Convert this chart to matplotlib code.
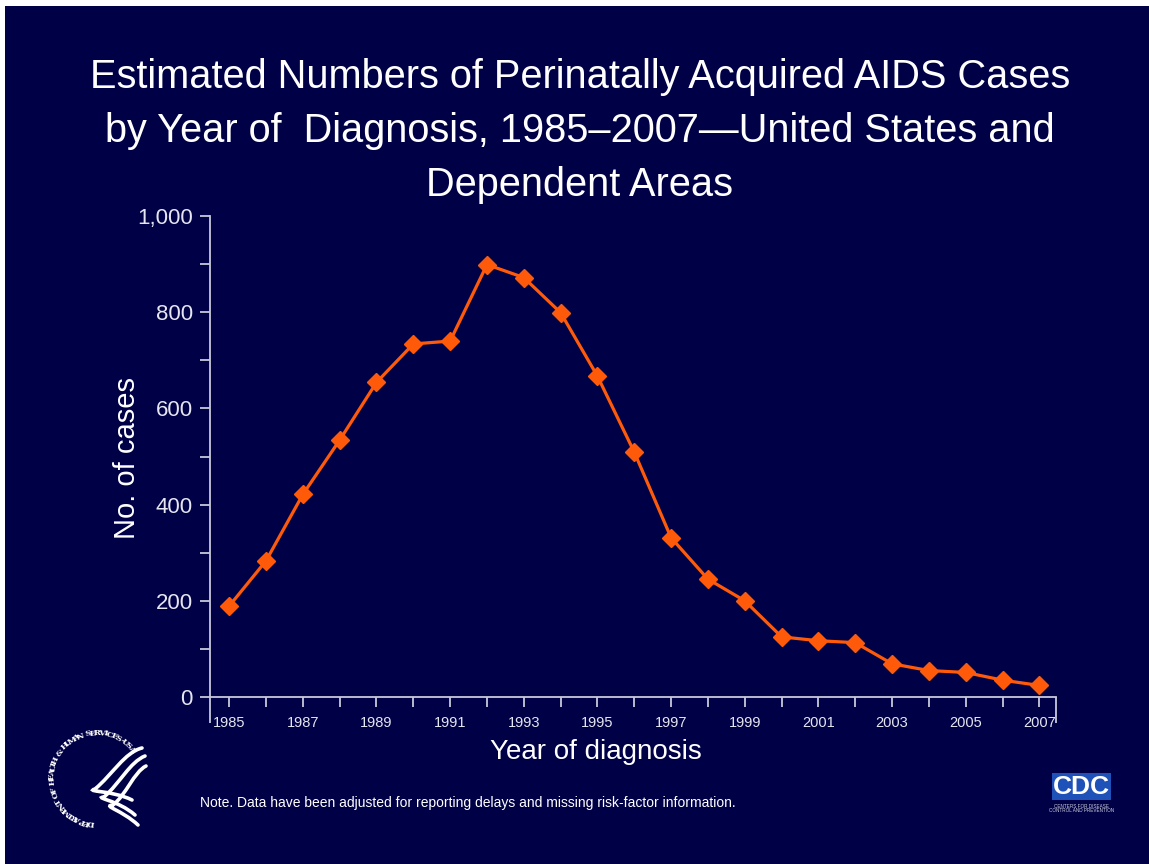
import numpy as np
import matplotlib
matplotlib.use("Agg")
import matplotlib.pyplot as plt
from matplotlib.patches import Rectangle, PathPatch
from matplotlib.path import Path
import matplotlib.font_manager as fm

# ---- data ----
years = list(range(1985, 2008))
cases = [189, 283, 421, 534, 654, 734, 740, 899, 872, 799, 667, 509,
         331, 245, 200, 125, 117, 113, 69, 55, 51, 35, 24]
ytick_vals = [0, 200, 400, 600, 800, 1000]
ytick_labels = ["0", "200", "400", "600", "800", "1,000"]
xtick_labels = [str(y) if (y - 1985) % 2 == 0 else "" for y in years]

title = ("Estimated Numbers of Perinatally Acquired AIDS Cases\n"
         "by Year of  Diagnosis, 1985\u20132007\u2014United States and\n"
         "Dependent Areas")
note = "Note. Data have been adjusted for reporting delays and missing risk-factor information."

BG = "#000046"
AX = "#c8c8dc"
TXT = "#e6e6f0"
LINE = "#ff5a0a"

names = {f.name for f in fm.fontManager.ttflist}
NARROW = "Liberation Sans Narrow" if "Liberation Sans Narrow" in names else "Liberation Sans"

plt.rcParams["font.family"] = ["Liberation Sans", "DejaVu Sans"]

W, H = 1149, 864
fig = plt.figure(figsize=(W / 100, H / 100), dpi=100)
fig.patch.set_facecolor("white")
# navy slide background (small white margin top/left like the reference)
fig.patches.append(Rectangle((5 / W, 0), 1, 1 - 6 / H, transform=fig.transFigure,
                             facecolor=BG, edgecolor="none", zorder=-10))

ax = fig.add_axes([210 / W, 1 - 697 / H, (1056 - 210) / W, (697 - 216) / H])
ax.set_facecolor("none")
ax.plot(years, cases, color=LINE, lw=2.3, marker="D", markersize=9,
        markeredgecolor=LINE, markerfacecolor=LINE, clip_on=False, zorder=5)

ax.set_xlim(1984.48, 2007.45)
ax.set_ylim(0, 1000)
for s in ["top", "right"]:
    ax.spines[s].set_visible(False)
for s in ["left", "bottom"]:
    ax.spines[s].set_color(AX)
    ax.spines[s].set_linewidth(1.3)

ax.set_yticks(ytick_vals)
ax.set_yticklabels(ytick_labels)
ax.set_yticks([100, 300, 500, 700, 900], minor=True)
ax.tick_params(axis="y", which="both", direction="out", length=7.5, width=1.3,
               color=AX, labelcolor=TXT, labelsize=16, pad=5)

ax.set_xticks(years)
ax.set_xticklabels(xtick_labels, fontfamily=NARROW)
ax.set_xticks([1984.48, 2007.45], minor=True)
ax.tick_params(axis="x", which="major", direction="out", length=7.5, width=1.3,
               color=AX, labelcolor=TXT, labelsize=10.5, pad=6)
ax.tick_params(axis="x", which="minor", direction="out", length=19, width=1.3,
               color=AX)

fig.text(127 / W, 1 - 458 / H, "No. of cases", rotation=90, ha="center",
         va="center", color="white", fontsize=21)
fig.text(596 / W, 1 - 752 / H, "Year of diagnosis", ha="center", va="center",
         color="white", fontsize=20)
fig.text(580 / W, 1 - 131 / H, title, ha="center", va="center",
         color="white", fontsize=28.6, linespacing=1.55)
fig.text(200 / W, 1 - 803 / H, note, ha="left", va="center", color="white",
         fontsize=10, fontfamily=NARROW)

# ---- CDC logo ----
fig.patches.append(Rectangle((1052 / W, 1 - 800 / H), 59 / W, 27 / H,
                             transform=fig.transFigure, facecolor="#1f52b8",
                             edgecolor="none"))
fig.text(1081.5 / W, 1 - 787 / H, "CDC", ha="center", va="center", color="white",
         fontsize=19, fontweight="bold", fontfamily=NARROW)
fig.text(1082 / W, 1 - 806 / H, "CENTERS FOR DISEASE", ha="center", va="center",
         color="#d0d0e0", fontsize=3.3)
fig.text(1082 / W, 1 - 811 / H, "CONTROL AND PREVENTION", ha="center", va="center",
         color="#d0d0e0", fontsize=3.3)

# ---- HHS logo ----
cx, cy, r = 97, 778, 45
ring = "DEPARTMENT OF HEALTH & HUMAN SERVICES\u00b7USA"
angs = np.linspace(262, 40, len(ring))
for ch, a in zip(ring, angs):
    t = np.deg2rad(a)
    px = cx + r * np.cos(t)
    py = cy - r * np.sin(t)
    fig.text(px / W, 1 - py / H, ch, rotation=a - 90, ha="center", va="center",
             color="white", fontsize=6, fontweight="bold",
             family=["DejaVu Serif"], rotation_mode="anchor")

def fpt(x, y):
    return (x / W, 1 - y / H)

strokes = [
    [(142, 748), (125, 752), (112, 775), (95, 789), (85, 792), (112, 790), (132, 800)],
    [(145, 756), (130, 762), (120, 783), (104, 797), (94, 798), (118, 800), (135, 815)],
    [(146, 766), (134, 772), (126, 795), (113, 805), (102, 806), (122, 810), (138, 825)],
]
for s in strokes:
    verts = [fpt(*p) for p in s]
    codes = [Path.MOVETO, Path.CURVE4, Path.CURVE4, Path.CURVE4,
             Path.CURVE4, Path.CURVE4, Path.CURVE4]
    fig.patches.append(PathPatch(Path(verts, codes), transform=fig.transFigure,
                                 facecolor="none", edgecolor="white", lw=2.6,
                                 capstyle="round"))

fig.savefig("out.png", dpi=100, facecolor=fig.get_facecolor())
